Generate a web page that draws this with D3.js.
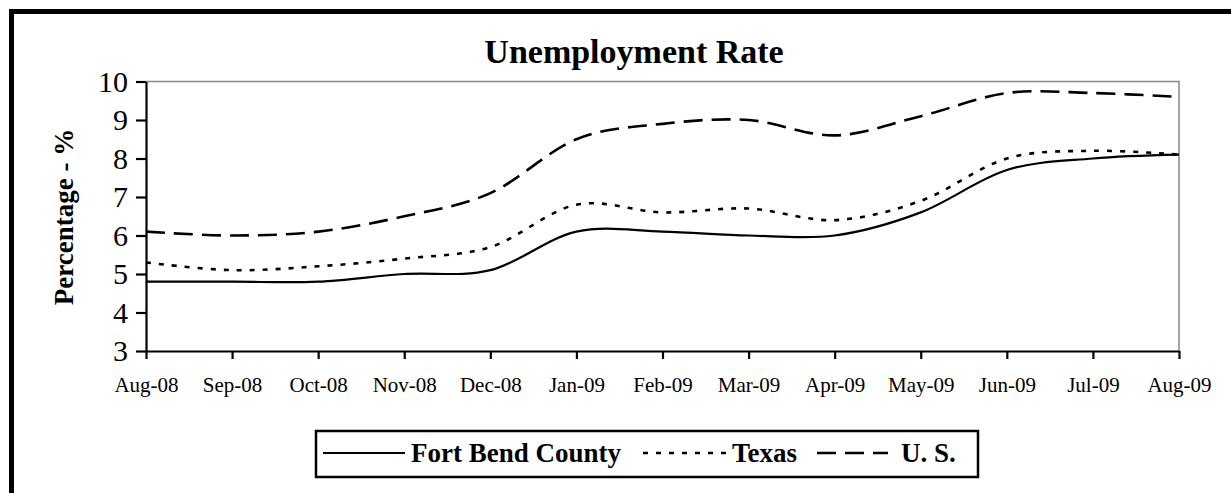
<!DOCTYPE html>
<html>
<head>
<meta charset="utf-8">
<script src="https://cdn.jsdelivr.net/npm/d3@7"></script>
<style>
  body { margin: 0; background: #fff; }
  svg { display: block; }
  svg text { font-family: 'Liberation Serif', 'Times New Roman', serif; fill: #000; }
</style>
</head>
<body>
<script>
// monthly unemployment rate, Aug-08 .. Aug-09
var months = ['Aug-08', 'Sep-08', 'Oct-08', 'Nov-08', 'Dec-08', 'Jan-09', 'Feb-09',
              'Mar-09', 'Apr-09', 'May-09', 'Jun-09', 'Jul-09', 'Aug-09'];
var fortBend = [4.8, 4.8, 4.8, 5.0, 5.1, 6.1, 6.1, 6.0, 6.0, 6.6, 7.7, 8.0, 8.1];
var texas    = [5.3, 5.1, 5.2, 5.4, 5.7, 6.8, 6.6, 6.7, 6.4, 6.9, 8.0, 8.2, 8.1];
var us       = [6.1, 6.0, 6.1, 6.5, 7.1, 8.5, 8.9, 9.0, 8.6, 9.1, 9.7, 9.7, 9.6];
var yTicks   = [3, 4, 5, 6, 7, 8, 9, 10];

var series = [
  { name: 'Fort Bend County', values: fortBend, dash: null,  width: 2.2 },
  { name: 'Texas',            values: texas,    dash: '5,8', width: 2.6 },
  { name: 'U. S.',            values: us,       dash: '19,9', width: 2.6 }
];

var
  width = 1231,
  height = 493,
  plot = { left: 146, right: 1179, top: 81.5, bottom: 351 },
  svg = d3.select('body').append('svg')
    .attr('width', width)
    .attr('height', height);

// outer frame (runs off the right and bottom of the picture)
svg.append('rect')
  .attr('x', 11.5).attr('y', 11.5)
  .attr('width', 1240).attr('height', 500)
  .attr('fill', '#fff')
  .attr('stroke', '#000')
  .attr('stroke-width', 5);

var x = d3.scalePoint()
  .domain(months)
  .range([plot.left, plot.right]);

var y = d3.scaleLinear()
  .domain([3, 10])
  .range([plot.bottom, plot.top]);

// plot area: grey top and right edges
svg.append('path')
  .attr('d', 'M' + plot.left + ',' + plot.top + 'H' + plot.right + 'V' + plot.bottom)
  .attr('fill', 'none')
  .attr('stroke', '#888')
  .attr('stroke-width', 1.5);

svg.append('text')
  .attr('x', 634)
  .attr('y', 63)
  .attr('text-anchor', 'middle')
  .style('font-size', '34px')
  .style('font-weight', 'bold')
  .text('Unemployment Rate');

var line = d3.line()
  .x(function (d, i) { return x(months[i]); })
  .y(function (d) { return y(d); })
  .curve(d3.curveCardinal.tension(0));

svg.selectAll('.series')
  .data(series)
  .enter()
  .append('path')
  .attr('class', 'series')
  .attr('d', function (d) { return line(d.values); })
  .attr('fill', 'none')
  .attr('stroke', '#000')
  .attr('stroke-width', function (d) { return d.width; })
  .attr('stroke-dasharray', function (d) { return d.dash; });

var yAxis = svg.append('g')
  .attr('transform', 'translate(' + plot.left + ',0)')
  .call(d3.axisLeft(y).tickValues(yTicks).tickFormat(d3.format('d'))
    .tickSize(10).tickSizeOuter(0).tickPadding(8));

yAxis.attr('font-family', null);
yAxis.selectAll('text')
  .style('font-size', '30px');

var xAxis = svg.append('g')
  .attr('transform', 'translate(0,' + plot.bottom + ')')
  .call(d3.axisBottom(x).tickSize(8).tickSizeOuter(0).tickPadding(18));

xAxis.attr('font-family', null);
xAxis.selectAll('text')
  .style('font-size', '21px');

svg.selectAll('.domain, .tick line')
  .attr('stroke', '#000')
  .attr('stroke-width', 2.2);

svg.append('text')
  .attr('transform', 'translate(73,217) rotate(-90)')
  .attr('text-anchor', 'middle')
  .style('font-size', '27px')
  .style('font-weight', 'bold')
  .text('Percentage - %');

// legend
var legend = svg.append('g');

legend.append('rect')
  .attr('x', 316).attr('y', 431)
  .attr('width', 662).attr('height', 46)
  .attr('fill', '#fff')
  .attr('stroke', '#000')
  .attr('stroke-width', 2.5);

var legendPos = [
  { x1: 323, x2: 405, tx: 411 },
  { x1: 643, x2: 727, tx: 732 },
  { x1: 817, x2: 888, tx: 901 }
];

legend.selectAll('.key')
  .data(series)
  .enter()
  .append('line')
  .attr('class', 'key')
  .attr('x1', function (d, i) { return legendPos[i].x1; })
  .attr('x2', function (d, i) { return legendPos[i].x2; })
  .attr('y1', 453).attr('y2', 453)
  .attr('stroke', '#000')
  .attr('stroke-width', function (d) { return d.width; })
  .attr('stroke-dasharray', function (d) { return d.dash; });

legend.selectAll('.label')
  .data(series)
  .enter()
  .append('text')
  .attr('class', 'label')
  .attr('x', function (d, i) { return legendPos[i].tx; })
  .attr('y', 462)
  .style('font-size', '27px')
  .style('font-weight', 'bold')
  .text(function (d) { return d.name; });
</script>
</body>
</html>
